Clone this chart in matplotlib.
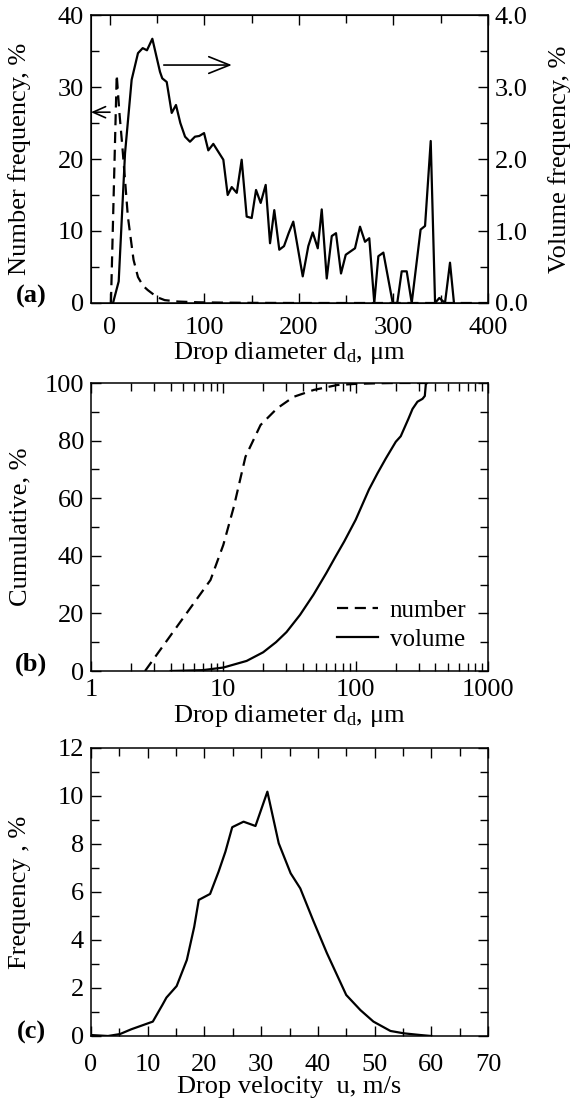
import matplotlib
matplotlib.use("Agg")
import matplotlib.pyplot as plt
from matplotlib.ticker import MultipleLocator, FormatStrFormatter, LogLocator, NullFormatter, FixedLocator

plt.rcParams['font.family'] = ['Liberation Serif', 'DejaVu Serif']
plt.rcParams['mathtext.fontset'] = 'custom'
plt.rcParams['mathtext.rm'] = 'Liberation Serif'
plt.rcParams['mathtext.it'] = 'Liberation Serif:italic'

# ---- data: panel (a) ----
num_d = [1.1, 7.2, 10, 13, 16, 19, 21.3, 25, 29.7, 35, 40, 50, 58, 72, 93, 120, 150, 200, 400]
num_f = [0, 31.7, 26.5, 22, 17.1, 12, 9.7, 6, 3.6, 2.4, 1.8, 0.8, 0.4, 0.2, 0.1, 0.05, 0.02, 0, 0]

vol_d = [3.3, 9.3, 16, 23, 29.7, 34.7, 39.2, 44.9, 53, 55.4, 60.1, 65.4, 69.9, 74.5, 79.5,
         84.7, 90, 94.6, 99.6, 104.1, 109.4, 114.7, 120, 124.6, 128.9, 134.2, 139.4, 144.7,
         150, 154.6, 159.5, 164.8, 169.4, 173.9, 179.2, 184.2, 189.1, 194, 204, 209.9, 214.6,
         219.9, 224.1, 229.4, 234.7, 239.2, 244.5, 249.5, 259.3, 264.6, 269.9, 274.4, 279.7,
         284, 289.3, 299.2, 304, 308.7, 314, 319.3, 328.7, 333.4, 339.4, 344, 348.5, 354.5,
         359.8, 364]
vol_f = [0, 0.30, 2.08, 3.1, 3.47, 3.54, 3.51, 3.67, 3.21, 3.12, 3.07, 2.64, 2.75, 2.5, 2.31,
         2.24, 2.31, 2.32, 2.36, 2.12, 2.21, 2.1, 1.99, 1.5, 1.61, 1.53, 1.99, 1.2,
         1.18, 1.57, 1.39, 1.64, 0.83, 1.29, 0.74, 0.79, 0.97, 1.13, 0.37, 0.79, 0.98,
         0.76, 1.3, 0.34, 0.93, 0.97, 0.41, 0.67, 0.76, 1.06, 0.85, 0.9, 0,
         0.65, 0.70, 0, 0, 0.44, 0.44, 0, 1.02, 1.07, 2.25, 0, 0.07, 0,
         0.56, 0]

# ---- data: panel (b) ----
cum_num_d = [2.56, 8.0, 10.0, 12.0, 14.7, 19.1, 25.5, 34, 48.3, 72.5, 100, 150, 200, 350]
cum_num = [0, 31.6, 43.8, 57, 74.4, 85.4, 91.2, 95.2, 97.6, 99.3, 99.7, 99.9, 100, 100]

cum_vol_d = [4, 7, 10, 15, 20, 25, 30, 38, 48, 60, 70, 82, 100, 126, 146, 169, 201, 219,
             250, 269, 293, 320, 333, 339, 345]
cum_vol = [0, 0.3, 1.2, 3.5, 6.5, 10, 13.5, 19.5, 26.5, 34, 39.5, 45, 52.5, 63, 68.6, 73.8,
           79.6, 81.5, 87.5, 91, 93.5, 94.5, 95.5, 99.6, 100]

# ---- data: panel (c) ----
vel_u = [0, 3, 5.1, 7.1, 10.9, 12.6, 13.3, 15.1, 16.9, 18.2, 19.0, 21.0, 22.5, 23.7, 24.9,
         26.9, 29.0, 31.1, 33.1, 35.2, 36.9, 39.2, 41.6, 45.0, 47.5, 49.8, 52.8, 55.2, 58.1, 60]
vel_f = [0.04, 0, 0.08, 0.28, 0.6, 1.3, 1.6, 2.08, 3.17, 4.55, 5.67, 5.92, 6.85, 7.68, 8.7,
         8.93, 8.75, 10.18, 8.03, 6.78, 6.15, 4.8, 3.45, 1.71, 1.08, 0.6, 0.21, 0.11, 0.04, 0.0]

W, H = 579, 1102
fig = plt.figure(figsize=(W / 100, H / 100), dpi=100)

FS_TICK = 19
FS_LAB = 19
LW = 1.6
LEFT, RIGHT = 91, 488


def pos(top, bottom, left=LEFT, right=RIGHT):
    return [left / W, 1 - bottom / H, (right - left) / W, (bottom - top) / H]


def style(ax, right=True, top=True):
    ax.tick_params(which='both', direction='in', top=top, right=right,
                   labelsize=FS_TICK, width=1.0)
    ax.tick_params(axis='y', pad=5)
    ax.tick_params(axis='x', pad=10)
    ax.tick_params(which='major', length=7)
    ax.tick_params(which='minor', length=5.5)
    for s in ax.spines.values():
        s.set_linewidth(1.1)


def place_ylabel(ax, text, xpix):
    ax.set_ylabel(text, fontsize=FS_LAB)
    ax.yaxis.set_label_coords((xpix - LEFT) / (RIGHT - LEFT), 0.5)


# ---------------- (a) ----------------
axa = fig.add_axes(pos(15, 303))
axa.plot(num_d, num_f, color='black', lw=LW, ls=(0, (5, 3)))
axa.set_xlim(-20, 400)
axa.set_ylim(0, 40)
axa.xaxis.set_major_locator(FixedLocator([0, 100, 200, 300, 400]))
axa.xaxis.set_minor_locator(MultipleLocator(50))
axa.yaxis.set_major_locator(MultipleLocator(10))
axa.yaxis.set_minor_locator(MultipleLocator(5))
style(axa, right=False)
place_ylabel(axa, 'Number frequency, %', 31)
axa.set_xlabel(r'Drop diameter d$_{\mathrm{d}}$, μm', fontsize=FS_LAB, labelpad=1)

axa2 = axa.twinx()
axa2.plot(vol_d, vol_f, color='black', lw=LW)
axa2.set_ylim(0, 4)
axa2.yaxis.set_major_locator(MultipleLocator(1))
axa2.yaxis.set_minor_locator(MultipleLocator(0.5))
axa2.yaxis.set_major_formatter(FormatStrFormatter('%.1f'))
axa2.tick_params(which='both', direction='in', labelsize=FS_TICK, width=1.0, pad=5)
axa2.tick_params(which='major', length=7)
axa2.tick_params(which='minor', length=5.5)
axa2.set_ylabel('Volume frequency, %', fontsize=FS_LAB)
axa2.yaxis.set_label_coords((548 - LEFT) / (RIGHT - LEFT), 0.5)

axa.annotate('', xy=(-20, 26.5), xytext=(0.1, 26.5),
             arrowprops=dict(arrowstyle='->,head_length=0.45,head_width=0.2',
                             color='black', lw=1.2, shrinkA=0, shrinkB=0,
                             mutation_scale=20))
axa.annotate('', xy=(129, 33.05), xytext=(57, 33.05),
             arrowprops=dict(arrowstyle='->,head_length=0.75,head_width=0.3',
                             color='black', lw=1.2, shrinkA=0, shrinkB=0,
                             mutation_scale=20))

# ---------------- (b) ----------------
axb = fig.add_axes(pos(383, 671))
axb.plot(cum_num_d, cum_num, color='black', lw=LW, ls=(0, (5, 3)), label='number')
axb.plot(cum_vol_d, cum_vol, color='black', lw=LW, label='volume')
axb.set_xscale('log')
axb.set_xlim(1, 1000)
axb.set_ylim(0, 100)
axb.xaxis.set_major_locator(FixedLocator([1, 10, 100, 1000]))
axb.xaxis.set_major_formatter(FormatStrFormatter('%d'))
axb.xaxis.set_minor_locator(LogLocator(base=10, subs=range(2, 10)))
axb.xaxis.set_minor_formatter(NullFormatter())
axb.yaxis.set_major_locator(MultipleLocator(20))
axb.yaxis.set_minor_locator(MultipleLocator(10))
style(axb)
axb.tick_params(axis='x', pad=6)
place_ylabel(axb, 'Cumulative, %', 31)
axb.set_xlabel(r'Drop diameter d$_{\mathrm{d}}$, μm', fontsize=FS_LAB, labelpad=1)
axb.legend(loc='lower right', bbox_to_anchor=(0.945, 0.07), frameon=False,
           fontsize=18, handlelength=1.67, handletextpad=0.45, labelspacing=0.25,
           borderaxespad=0, borderpad=0)

# ---------------- (c) ----------------
axc = fig.add_axes(pos(748, 1036))
axc.plot(vel_u, vel_f, color='black', lw=LW)
axc.set_xlim(0, 70)
axc.set_ylim(0, 12)
axc.xaxis.set_major_locator(MultipleLocator(10))
axc.xaxis.set_minor_locator(MultipleLocator(5))
axc.yaxis.set_major_locator(MultipleLocator(2))
axc.yaxis.set_minor_locator(MultipleLocator(1))
style(axc)
axc.tick_params(axis='x', pad=13)
place_ylabel(axc, 'Frequency , %', 31)
axc.set_xlabel('Drop velocity  u, m/s', fontsize=FS_LAB, labelpad=0)

for lab, y in (('(a)', 296), ('(b)', 664), ('(c)', 1032)):
    fig.text(31 / W, 1 - y / H, lab, fontsize=19, fontweight='bold',
             ha='center', va='center')

fig.savefig('out.png', dpi=100)
